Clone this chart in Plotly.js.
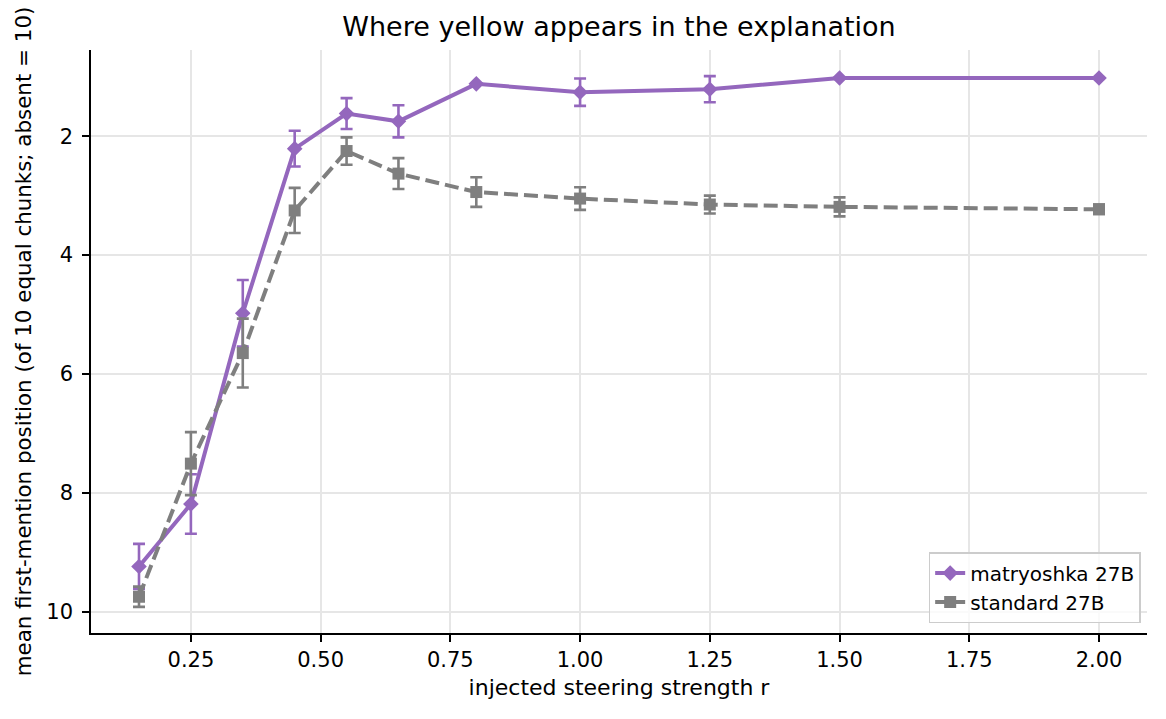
<!DOCTYPE html>
<html>
<head>
<meta charset="utf-8">
<script src="https://cdn.plot.ly/plotly-3.0.1.min.js"></script>
<style>
  body{margin:0;background:#fff;}
  #grafico{width:1166px;height:719px;}
</style>
</head>
<body>
<div id="grafico"></div>
<script>
//DATOS
var fuerza=[0.15,0.25,0.35,0.45,0.55,0.65,0.8,1.0,1.25,1.5,2.0];

var matr=[9.24,8.19,4.98,2.21,1.62,1.75,1.12,1.26,1.21,1.02,1.02];
var matr_err=[0.38,0.50,0.56,0.30,0.26,0.27,0,0.23,0.22,0,0];

var estd=[9.75,7.51,5.65,3.25,2.25,2.63,2.94,3.05,3.15,3.19,3.23];
var estd_err=[0.17,0.53,0.58,0.38,0.23,0.26,0.25,0.19,0.15,0.16,0.08];

var ticks_x=[0.25,0.5,0.75,1.0,1.25,1.5,1.75,2.0];
var ticks_y=[2,4,6,8,10];

var morado="#9467bd";
var gris="#7f7f7f";
var fuente="DejaVu Sans, sans-serif";

//GRAFICA
var trace1={
  x:fuerza,
  y:matr,
  type:'scatter',
  mode:'lines+markers',
  name:"matryoshka 27B",
  line:{color:morado,width:4},
  marker:{symbol:'diamond',size:12,color:morado},
  error_y:{type:'data',array:matr_err,visible:true,color:morado,thickness:2.6,width:6}
};

var trace2={
  x:fuerza,
  y:estd,
  type:'scatter',
  mode:'lines+markers',
  name:"standard 27B",
  line:{color:gris,width:4,dash:"14px,6px"},
  marker:{symbol:'square',size:12,color:gris},
  error_y:{type:'data',array:estd_err,visible:true,color:gris,thickness:2.6,width:6}
};

var data=[trace1,trace2];

var layout={
  width:1166,
  height:719,
  margin:{l:91,r:19,t:50,b:86},
  paper_bgcolor:'#fff',
  plot_bgcolor:'#fff',
  font:{family:fuente,size:21,color:'#000'},
  title:{
    text:"Where yellow appears in the explanation",
    font:{family:fuente,size:27,color:'#000'},
    x:0.5,xref:'paper',
    y:1-27/719,yref:'container',yanchor:'middle'
  },
  xaxis:{
    range:[0.0575,2.0925],
    tickvals:ticks_x,
    tickformat:'.2f',
    ticks:'outside',ticklen:7,tickwidth:1.6,tickcolor:'#000',
    showline:true,linecolor:'#000',linewidth:1.6,
    showgrid:true,gridcolor:'#e6e6e6',gridwidth:1.5,
    zeroline:false,
    tickfont:{family:fuente,size:21,color:'#000'},
    title:{text:"injected steering strength r",font:{family:fuente,size:22,color:'#000'},standoff:9}
  },
  yaxis:{
    range:[10.36,0.55],
    tickvals:ticks_y,
    ticks:'outside',ticklen:7,tickwidth:1.6,tickcolor:'#000',
    ticklabelstandoff:5,
    showline:true,linecolor:'#000',linewidth:1.6,
    showgrid:true,gridcolor:'#e6e6e6',gridwidth:1.5,
    zeroline:false,
    tickfont:{family:fuente,size:21,color:'#000'},
    title:{text:"mean first-mention position (of 10 equal chunks; absent = 10)",font:{family:fuente,size:21.4,color:'#000'},standoff:9}
  },
  legend:{
    x:0.994,y:0.017,xanchor:'right',yanchor:'bottom',
    bgcolor:'rgba(255,255,255,0.8)',bordercolor:'#cccccc',borderwidth:1.5,
    font:{family:fuente,size:20,color:'#000'}
  },
  showlegend:true
};

Plotly.newPlot("grafico",data,layout,{displayModeBar:false});
</script>
</body>
</html>
